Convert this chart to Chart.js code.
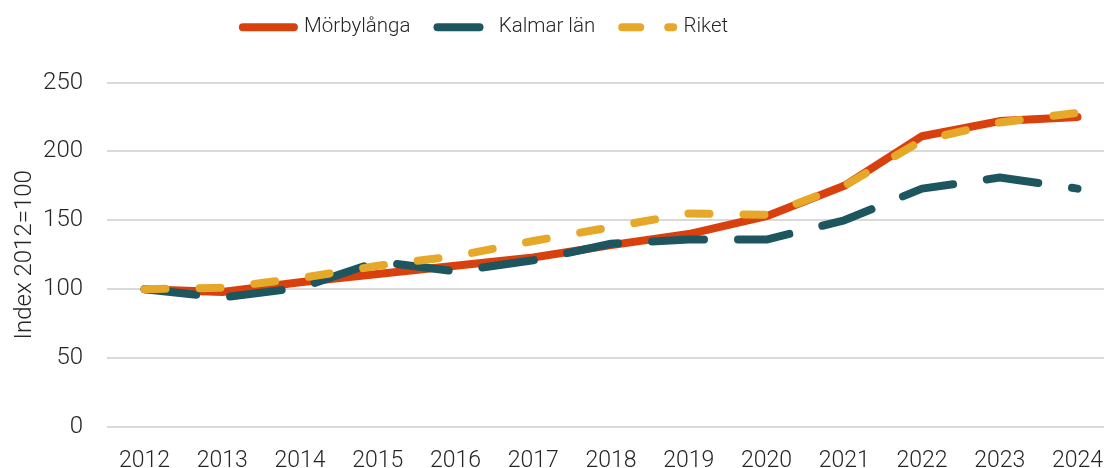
<!DOCTYPE html>
<html lang="sv">
  <head>
    <meta charset="UTF-8" />
    <title>Index 2012=100</title>
    <script src="https://cdn.jsdelivr.net/npm/chart.js"></script>
    <style>
      html, body { margin: 0; padding: 0; background: #fff; }
      #wrap { width: 1115px; height: 468px; }
    </style>
  </head>
  <body>
    <div id="wrap"><canvas id="chart"></canvas></div>
    <script>
      // data
      const years = [2012, 2013, 2014, 2015, 2016, 2017, 2018, 2019, 2020, 2021, 2022, 2023, 2024];
      const morbylanga = [100, 98, 105, 111, 117, 123, 132, 140, 153, 175, 211, 222, 225];
      const kalmar = [100, 94, 101, 120, 113, 121, 133, 136, 136, 150, 173, 181, 173];
      const riket = [100, 101, 108, 117, 124, 135, 145, 155, 154, 175, 208, 221, 228];
      const yTicks = [0, 50, 100, 150, 200, 250];

      const fontFam = "Roboto, 'Open Sans', sans-serif";
      const txt = "#262626";

      function pts(vals) {
        return years.map((y, i) => ({ x: y, y: vals[i] }));
      }

      // extra space under the legend, and legend moved a bit left
      const legendSpace = {
        id: "legendSpace",
        beforeLayout(chart) {
          const lg = chart.legend;
          if (lg && !lg._patched) {
            const fit = lg.fit;
            lg.fit = function () {
              fit.call(this);
              this.height += 35;
            };
            lg._patched = true;
          }
        },
        afterLayout(chart) {
          const lg = chart.legend;
          if (lg) {
            lg.left -= 72;
            lg.right -= 72;
          }
        },
      };

      const ctx = document.getElementById("chart").getContext("2d");
      new Chart(ctx, {
        type: "line",
        data: {
          datasets: [
            {
              label: "Mörbylånga",
              data: pts(morbylanga),
              borderColor: "#D8400E",
              backgroundColor: "#D8400E",
              borderWidth: 8,
              borderCapStyle: "round",
              borderJoinStyle: "round",
              legendDash: [],
              order: 3,
            },
            {
              label: "Kalmar län",
              data: pts(kalmar),
              borderColor: "#1E5660",
              backgroundColor: "#1E5660",
              borderWidth: 8,
              borderDash: [52, 34],
              borderCapStyle: "round",
              borderJoinStyle: "round",
              legendDash: [42, 20],
              order: 2,
            },
            {
              label: "Riket",
              data: pts(riket),
              borderColor: "#E6A828",
              backgroundColor: "#E6A828",
              borderWidth: 8,
              borderDash: [21, 34],
              borderCapStyle: "round",
              borderJoinStyle: "round",
              legendDash: [18, 28],
              order: 1,
            },
          ],
        },
        plugins: [legendSpace],
        options: {
          responsive: true,
          maintainAspectRatio: false,
          animation: false,
          events: [],
          elements: { point: { radius: 0 }, line: { tension: 0 } },
          layout: { padding: { top: -10, right: 0, left: 0, bottom: 0 } },
          plugins: {
            tooltip: { enabled: false },
            legend: {
              position: "top",
              labels: {
                usePointStyle: true,
                pointStyleWidth: 51,
                boxHeight: 8,
                padding: 27,
                color: txt,
                font: { family: fontFam, size: 20.5, weight: 300 },
                generateLabels: (chart) =>
                  chart.data.datasets.map((ds, i) => ({
                    text: ds.label,
                    datasetIndex: i,
                    pointStyle: "line",
                    strokeStyle: ds.borderColor,
                    fillStyle: ds.borderColor,
                    lineWidth: 8,
                    lineCap: "round",
                    lineDash: ds.legendDash,
                    fontColor: txt,
                  })),
              },
            },
          },
          scales: {
            x: {
              type: "linear",
              min: 2011.517,
              max: 2024.343,
              grid: { display: false },
              border: { display: false },
              afterBuildTicks: (s) => {
                s.ticks = years.map((v) => ({ value: v }));
              },
              afterFit: (s) => {
                s.height = 41;
              },
              ticks: {
                color: txt,
                padding: 12,
                maxRotation: 0,
                autoSkip: false,
                font: { family: fontFam, size: 23, weight: 300 },
                callback: (v) => String(v),
              },
            },
            y: {
              min: 0,
              max: 250,
              border: { display: false },
              grid: { color: "#d9d9d9", lineWidth: 2, drawTicks: false },
              afterBuildTicks: (s) => {
                s.ticks = yTicks.map((v) => ({ value: v }));
              },
              afterFit: (s) => {
                s.width = 107;
              },
              ticks: {
                color: txt,
                padding: 24,
                font: { family: fontFam, size: 24, weight: 300 },
              },
              title: {
                display: true,
                text: "Index 2012=100",
                color: txt,
                padding: { top: 11, bottom: 0 },
                font: { family: fontFam, size: 24, weight: 300 },
              },
            },
          },
        },
      });
    </script>
  </body>
</html>
